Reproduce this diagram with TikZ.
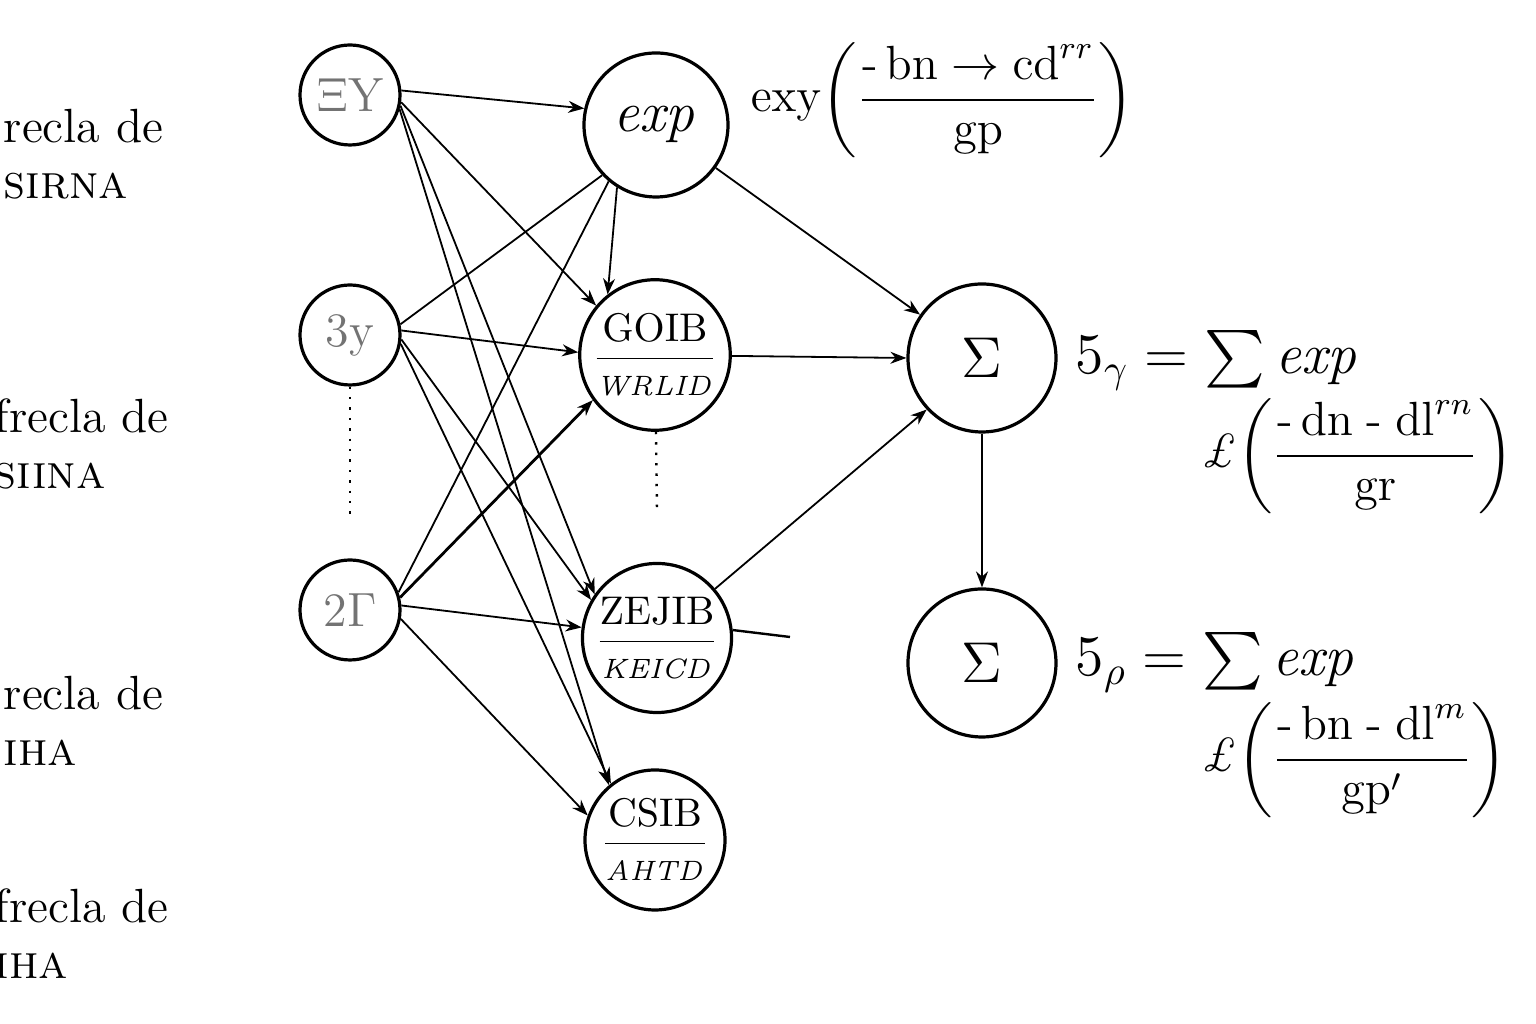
\documentclass[tikz,border=0pt]{standalone}
\usepackage{amsmath}
\usepackage{amssymb}
\usepackage{tikz}
\usepackage{xcolor}
\usetikzlibrary{arrows.meta}

\begin{document}
\begin{tikzpicture}[x=0.25pt, y=-0.25pt,
                    every node/.style={inner sep=0pt},
                    neuron/.style={draw, circle, line width=0.8pt, align=center},
                    link/.style={line width=0.45pt, -{Stealth[length=4pt, width=3pt]}},
                    plain/.style={line width=0.45pt},
                    side/.style={anchor=north west, align=left, font=\large}]  % <-- 1px = 0.25pt, y down

  \useasboundingbox (0,0) rectangle (1536,1024);

  % === Labels (Left) ===
  \node[side] (lblA) at (3,108)  {recla de\\\textsc{sirna}};
  \node[side] (lblB) at (-6,398) {frecla de\\\textsc{siina}};
  \node[side] (lblC) at (3,675)  {recla de\\\textsc{iha}};
  \node[side] (lblD) at (-6,888) {frecla de\\\textsc{iha}};

  % === Input Layer ===
  \begin{scope}[every node/.append style={minimum size=25pt, font=\large, text=black!55}]
    \node[neuron] (in1) at (350,95)  {$\Xi$Y};
    \node[neuron] (in2) at (350,335) {3y};
    \node[neuron] (in3) at (350,610) {2$\Gamma$};
  \end{scope}
  \coordinate (dotA) at (350,520);
  \draw[dotted, line width=0.6pt] (in2) -- (dotA);

  % === Middle Layer ===
  \node[neuron, minimum size=36pt, font=\Large] (m1) at (656,125) {$\mathit{exp}$};
  \node[neuron, minimum size=36pt] (m2) at (655,355)
       {$\dfrac{\mathrm{GOIB}}{\mathit{\scriptstyle WRLID}}$};
  \node[neuron, minimum size=36pt] (m3) at (657,638)
       {$\dfrac{\mathrm{ZEJIB}}{\mathit{\scriptstyle KEICD}}$};
  \node[neuron, minimum size=35pt] (m4) at (655,840)
       {$\dfrac{\mathrm{CSIB}}{\mathit{\scriptstyle AHTD}}$};
  \coordinate (dotB) at (657,510);
  \draw[dotted, line width=0.6pt] (m2) -- (dotB);

  % input -> middle
  \draw[link] (in1.5) -- (m1.167);
  \draw[link] (in1.-8) -- (m2.140);
  \draw[link] (in1.-12) -- (m3.145);
  \draw[link] (in1.-16) -- (m4.130);
  \draw[plain] (in2.12) -- (m1.223);
  \draw[link] (in2.5) -- (m2.178);
  \draw[link] (in2.-5) -- (m3.150);
  \draw[link] (in2.-10) -- (m4.128);
  \draw[plain] (in3.20) -- (m1.230);
  \draw[link, line width=0.7pt] (in3.14) -- (m2.216);
  \draw[link] (in3.5) -- (m3.172);
  \draw[link] (in3.-10) -- (m4.160);
  \draw[link] (m1.238) -- (m2.128);

  % === Sum Nodes (Right) ===
  \node[neuron, minimum size=37pt, font=\Large] (s1) at (982,358) {$\Sigma$};
  \node[neuron, minimum size=37pt, font=\Large] (s2) at (982,663) {$\Sigma$};

  \draw[link] (m1) -- (s1.145);
  \draw[link] (m2) -- (s1.180);
  \draw[link] (m3) -- (s1.223);
  \coordinate (stub) at (790,637);
  \draw[plain, line width=0.6pt] (m3.6) -- (stub);
  \draw[link] (s1) -- (s2);

  % === Formulas ===
  \node[anchor=west, font=\large] (expf) at (750,100)
       {$\mathrm{exy}\!\left(\dfrac{\text{-}\,\mathrm{bn}\to\mathrm{cd}^{rr}}{\mathrm{gp}}\right)$};
  \node[anchor=west, font=\Large] (sumA) at (1075,360) {$5_\gamma = \sum \mathit{exp}$};
  \node[anchor=west, font=\large] (sumA2) at (1200,456)
       {$\pounds\!\left(\dfrac{\text{-}\,\mathrm{dn}\;\text{-}\;\mathrm{dl}^{rn}}{\mathrm{gr}}\right)$};
  \node[anchor=west, font=\Large] (sumB) at (1075,662) {$5_\rho = \sum \mathit{exp}$};
  \node[anchor=west, font=\large] (sumB2) at (1200,760)
       {$\pounds\!\left(\dfrac{\text{-}\,\mathrm{bn}\;\text{-}\;\mathrm{dl}^{m}}{\mathrm{gp'}}\right)$};

\end{tikzpicture}
\end{document}
